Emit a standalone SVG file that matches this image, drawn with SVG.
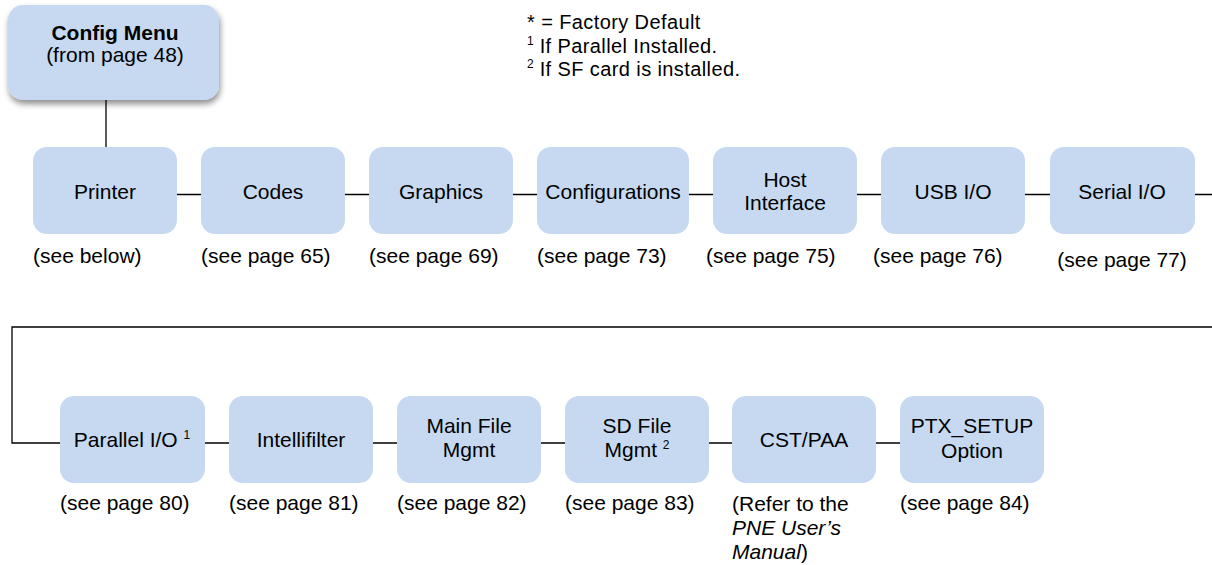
<svg xmlns="http://www.w3.org/2000/svg" width="1212" height="565" viewBox="0 0 1212 565">
<style>
.box{fill:#C6D9F0}
.t{font-family:"Liberation Sans",Arial,sans-serif;font-size:21px;fill:#000}
.lg{font-size:20px;letter-spacing:0.4px}
.c{text-anchor:middle}
.b{font-weight:bold}
.sup{font-size:12px;letter-spacing:0}
.ln{stroke:#000;stroke-width:1.3;fill:none}
</style>
<defs>
<filter id="sh" x="-10%" y="-10%" width="125%" height="130%">
<feGaussianBlur in="SourceAlpha" stdDeviation="3"/>
<feOffset dx="1" dy="4" result="o"/>
<feComponentTransfer><feFuncA type="linear" slope="0.45"/></feComponentTransfer>
<feMerge><feMergeNode/><feMergeNode in="SourceGraphic"/></feMerge>
</filter>
</defs>
<rect width="1212" height="565" fill="#fff"/>
<g id="connectors">
<path class="ln" d="M106 100V147"/>
<path class="ln" d="M177 194.5H201M345 194.5H369M513 194.5H537M689 194.5H713M857 194.5H881M1025 194.5H1050M1195 194.5H1212"/>
<path class="ln" d="M1212 327H12V443H60"/>
<path class="ln" d="M205 443H229M373 443H397M541 443H565M709 443H732M876 443H900"/>
</g>
<g id="legend">
<text class="t lg" x="527" y="29">* = Factory Default</text>
<text class="t lg" x="527" y="52.5"><tspan class="sup" dy="-8">1</tspan><tspan dy="8"> If Parallel Installed.</tspan></text>
<text class="t lg" x="527" y="76"><tspan class="sup" dy="-8">2</tspan><tspan dy="8"> If SF card is installed.</tspan></text>
</g>
<g id="config-menu">
<rect class="box" x="8" y="5" width="211" height="95" rx="15" filter="url(#sh)"/>
<text class="t c b" x="115" y="40">Config Menu</text>
<text class="t c" x="115" y="62">(from page 48)</text>
</g>
<g id="printer">
<rect class="box" x="33" y="147" width="144" height="87" rx="14"/>
<text class="t c" x="105" y="199">Printer</text>
<text class="t" x="33" y="263">(see below)</text>
</g>
<g id="codes">
<rect class="box" x="201" y="147" width="144" height="87" rx="14"/>
<text class="t c" x="273" y="199">Codes</text>
<text class="t" x="201" y="263">(see page 65)</text>
</g>
<g id="graphics">
<rect class="box" x="369" y="147" width="144" height="87" rx="14"/>
<text class="t c" x="441" y="199">Graphics</text>
<text class="t" x="369" y="263">(see page 69)</text>
</g>
<g id="configurations">
<rect class="box" x="537" y="147" width="152" height="87" rx="14"/>
<text class="t c" x="613" y="199">Configurations</text>
<text class="t" x="537" y="263">(see page 73)</text>
</g>
<g id="host-interface">
<rect class="box" x="713" y="147" width="144" height="87" rx="14"/>
<text class="t c" x="785" y="187">Host</text>
<text class="t c" x="785" y="210">Interface</text>
<text class="t" x="706" y="263">(see page 75)</text>
</g>
<g id="usb-io">
<rect class="box" x="881" y="147" width="144" height="87" rx="14"/>
<text class="t c" x="953" y="199">USB I/O</text>
<text class="t" x="873" y="263">(see page 76)</text>
</g>
<g id="serial-io">
<rect class="box" x="1050" y="147" width="145" height="87" rx="14"/>
<text class="t c" x="1122" y="199">Serial I/O</text>
<text class="t c" x="1122" y="267">(see page 77)</text>
</g>
<g id="parallel-io">
<rect class="box" x="60" y="396" width="145" height="87" rx="14"/>
<text class="t c" x="132" y="447">Parallel I/O <tspan class="sup" dy="-8">1</tspan></text>
<text class="t" x="60" y="510">(see page 80)</text>
</g>
<g id="intellifilter">
<rect class="box" x="229" y="396" width="144" height="87" rx="14"/>
<text class="t c" x="301" y="447">Intellifilter</text>
<text class="t" x="229" y="510">(see page 81)</text>
</g>
<g id="main-file-mgmt">
<rect class="box" x="397" y="396" width="144" height="87" rx="14"/>
<text class="t c" x="469" y="433">Main File</text>
<text class="t c" x="469" y="457">Mgmt</text>
<text class="t" x="397" y="510">(see page 82)</text>
</g>
<g id="sd-file-mgmt">
<rect class="box" x="565" y="396" width="144" height="87" rx="14"/>
<text class="t c" x="637" y="433">SD File</text>
<text class="t c" x="637" y="457">Mgmt <tspan class="sup" dy="-8">2</tspan></text>
<text class="t" x="565" y="510">(see page 83)</text>
</g>
<g id="cst-paa">
<rect class="box" x="732" y="396" width="144" height="87" rx="14"/>
<text class="t c" x="804" y="447">CST/PAA</text>
<text class="t" x="732" y="511">(Refer to the</text>
<text class="t" x="732" y="535"><tspan font-style="italic">PNE User’s</tspan></text>
<text class="t" x="732" y="559"><tspan font-style="italic">Manual</tspan>)</text>
</g>
<g id="ptx-setup">
<rect class="box" x="900" y="396" width="144" height="87" rx="14"/>
<text class="t c" x="972" y="433">PTX_SETUP</text>
<text class="t c" x="972" y="458">Option</text>
<text class="t" x="900" y="510">(see page 84)</text>
</g>
</svg>
